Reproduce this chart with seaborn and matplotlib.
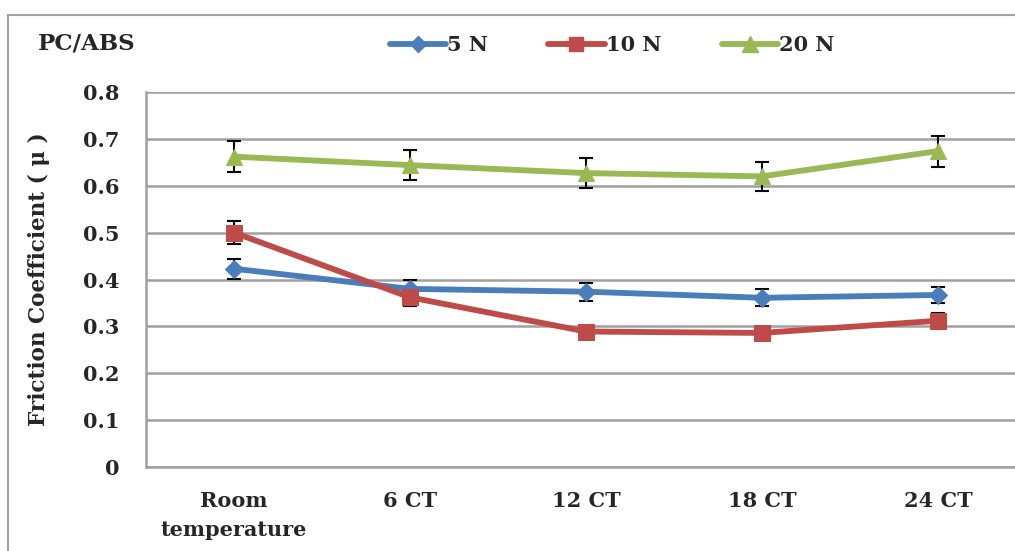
import numpy as np
import pandas as pd
import matplotlib
matplotlib.use("Agg")
import matplotlib.pyplot as plt
from matplotlib.patches import Rectangle
from matplotlib.lines import Line2D
import seaborn as sns

categories = ["Room\ntemperature", "6 CT", "12 CT", "18 CT", "24 CT"]
series_names = ["5 N", "10 N", "20 N"]
vals_5N = [0.423, 0.380, 0.374, 0.361, 0.367]
err_5N = [0.021, 0.020, 0.019, 0.018, 0.018]
vals_10N = [0.500, 0.362, 0.289, 0.286, 0.312]
err_10N = [0.025, 0.018, 0.008, 0.008, 0.016]
vals_20N = [0.662, 0.644, 0.627, 0.620, 0.674]
err_20N = [0.033, 0.032, 0.032, 0.031, 0.033]
yticks = [0, 0.1, 0.2, 0.3, 0.4, 0.5, 0.6, 0.7, 0.8]

colors = {"5 N": "#4A7EBB", "10 N": "#BE4B48", "20 N": "#98B954"}
markers = {"5 N": "D", "10 N": "s", "20 N": "^"}
msizes = {"5 N": 9, "10 N": 11, "20 N": 12}

rows = []
for name, v in zip(series_names, [vals_5N, vals_10N, vals_20N]):
    for i, val in enumerate(v):
        rows.append({"x": i, "y": val, "series": name})
df = pd.DataFrame(rows)

sns.set_style("white")
plt.rcParams["font.family"] = ["DejaVu Serif"]
plt.rcParams["font.weight"] = "bold"

W, H = 1015, 551
fig = plt.figure(figsize=(W / 100, H / 100), dpi=100)
left, right, top, bottom = 146, 1026, 92, 467
ax = fig.add_axes([left / W, 1 - bottom / H, (right - left) / W, (bottom - top) / H])

# outer chart border
fig.patches.append(Rectangle((8 / W, -0.1), 1.2, 1 - 15 / H + 0.1, transform=fig.transFigure,
                             fill=False, edgecolor="#A0A0A0", linewidth=1.5))

for name, v, e in zip(series_names, [vals_5N, vals_10N, vals_20N], [err_5N, err_10N, err_20N]):
    ax.errorbar(range(len(v)), v, yerr=e, fmt="none", ecolor="black", elinewidth=1.5,
                capsize=5, capthick=1.5, zorder=2)

for name in series_names:
    sub = df[df.series == name]
    sns.lineplot(data=sub, x="x", y="y", ax=ax, color=colors[name], marker=markers[name],
                 markersize=msizes[name], markeredgecolor=colors[name], linewidth=4.2,
                 label=name, zorder=3, legend=False)

ax.set_xlim(-0.5, 4.5)
ax.set_ylim(0, 0.8)
ax.set_yticks(yticks)
ax.set_yticklabels(["0" if t == 0 else f"{t:.1f}" for t in yticks], fontsize=15, fontweight="bold")
ax.yaxis.grid(True, color="#A0A0A0", linewidth=1.8)
ax.set_axisbelow(True)

ax.set_xticks(np.arange(-0.5, 5.0, 1.0))
ax.set_xticklabels([])
ax.set_xticks(range(len(categories)), minor=True)
ax.set_xticklabels(categories, minor=True, fontsize=15, fontweight="bold", linespacing=1.6)
ax.tick_params(axis="x", which="major", direction="out", length=6, color="#A0A0A0", width=1.5)
ax.tick_params(axis="x", which="minor", length=0, pad=17)
ax.tick_params(axis="y", direction="out", length=5, color="#A0A0A0", width=1.5, pad=14)

for s in ["top", "right"]:
    ax.spines[s].set_visible(False)
for s in ["left", "bottom"]:
    ax.spines[s].set_color("#A0A0A0")
    ax.spines[s].set_linewidth(1.8)

ax.set_xlabel("")
ax.set_ylabel("Friction Coefficient ( μ )", fontsize=15.5, fontweight="bold", labelpad=24)

fig.text(38 / W, 1 - 43 / H, "PC/ABS", fontsize=16.5, fontweight="bold", va="center", ha="left")

handles = [Line2D([0], [0], color=colors[n], marker=markers[n], markersize=msizes[n] - 1,
                  linewidth=4.2) for n in series_names]
fig.legend(handles, series_names, loc="center", bbox_to_anchor=(612 / W, 1 - 45 / H),
           ncol=3, frameon=False, handlelength=2.7, handletextpad=0.05,
           columnspacing=2.9, prop={"weight": "bold", "size": 15})

fig.savefig("out.png", dpi=100)
